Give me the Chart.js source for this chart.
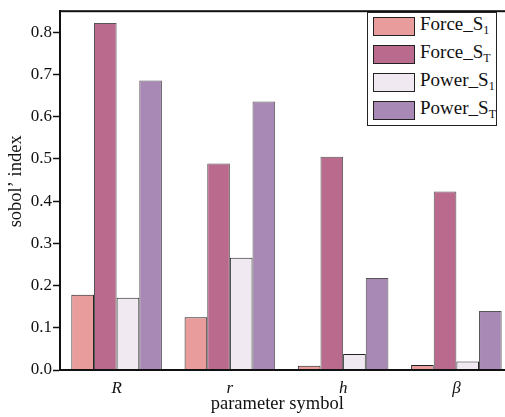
<!DOCTYPE html>
<html>
<head>
<meta charset="utf-8">
<script src="https://cdn.jsdelivr.net/npm/chart.js@4.4.0/dist/chart.umd.min.js"></script>
<style>
    html, body { margin: 0; padding: 0; background: #fff; overflow: hidden; }
    #wrap { position: relative; width: 515px; height: 417px; }
    #legend {
        position: absolute; left: 367px; top: 12px; width: 130px; height: 114px;
        border: 1px solid #222; background: #fff; box-sizing: border-box;
        font-family: "Liberation Serif", "Times New Roman", serif; font-size: 19px; color: #111;
    }
    .item { position: absolute; left: 5px; height: 18px; }
    .swatch { position: absolute; left: 0; top: 0; width: 40px; height: 17px; border: 1px solid #222; }
    .lbl { position: absolute; left: 47px; top: -4px; white-space: nowrap; line-height: 22px; }
    .lbl sub { font-size: 12px; vertical-align: -4px; line-height: 0; }
</style>
</head>
<body>
<div id="wrap">
    <canvas id="chart"></canvas>
    <div id="legend"></div>
</div>
<script>
const categories = ['R', 'r', 'h', 'β'];
const seriesNames = ['Force_S', 'Force_S', 'Power_S', 'Power_S'];
const seriesSubs = ['1', 'T', '1', 'T'];
const forceS1 = [0.178, 0.125, 0.010, 0.012];
const forceST = [0.822, 0.489, 0.505, 0.423];
const powerS1 = [0.171, 0.266, 0.038, 0.020];
const powerST = [0.686, 0.636, 0.218, 0.140];
const fillColors = ['#E99C9C', '#BA6A8C', '#F1E9F1', '#A889B5'];
const edgeColors = ['#222', '#555', '#222', '#555'];

const serif = '"Liberation Serif", "Times New Roman", serif';
const values = [forceS1, forceST, powerS1, powerST];

const datasets = values.map((v, i) => ({
    label: seriesNames[i] + seriesSubs[i],
    data: v,
    backgroundColor: fillColors[i],
    borderColor: edgeColors[i],
    borderWidth: 1,
    categoryPercentage: 0.8,
    barPercentage: 1.0
}));

// frame around the plot area (right edge falls just outside the window)
const framePlugin = {
    id: 'frame',
    afterDraw(chart) {
        const a = chart.chartArea;
        const ctx = chart.ctx;
        ctx.save();
        ctx.strokeStyle = '#111';
        ctx.lineWidth = 2;
        ctx.strokeRect(a.left, a.top, a.right - a.left, a.bottom - a.top);
        ctx.restore();
    }
};

const chart = new Chart(document.getElementById('chart'), {
    type: 'bar',
    data: { labels: categories, datasets },
    options: {
        responsive: true,
        maintainAspectRatio: false,
        animation: false,
        layout: { padding: { left: 0, top: 4, right: 2, bottom: 0 } },
        plugins: {
            legend: { display: false },
            tooltip: { enabled: false }
        },
        scales: {
            x: {
                grid: { display: false, drawTicks: false },
                border: { display: true, color: '#111', width: 2 },
                ticks: {
                    color: '#111', padding: 8,
                    font: { family: serif, size: 17, style: 'italic' }
                },
                title: {
                    // trailing spaces nudge the title left like the original
                    display: true, text: 'parameter symbol    ', color: '#111',
                    font: { family: serif, size: 18.5 },
                    padding: { top: 0, bottom: 2 }
                },
                afterFit(scale) { scale.height = 47; }
            },
            y: {
                min: 0,
                max: 0.85,
                grid: { drawOnChartArea: false, tickLength: 7, tickColor: '#111', tickWidth: 1.5 },
                border: { display: true, color: '#111', width: 2 },
                ticks: {
                    stepSize: 0.1, color: '#111', padding: 1,
                    font: { family: serif, size: 17 },
                    callback: v => Number(v).toFixed(1)
                },
                afterBuildTicks(scale) {
                    scale.ticks = scale.ticks.filter(t => Math.abs(t.value * 10 - Math.round(t.value * 10)) < 1e-6);
                },
                title: {
                    display: true, text: '    sobol’ index', color: '#111',
                    font: { family: serif, size: 18.5 },
                    padding: { top: 5, bottom: 0 }
                },
                afterFit(scale) { scale.width = 60; }
            }
        }
    },
    plugins: [framePlugin]
});

// legend with real subscripts
const legendEl = document.getElementById('legend');
chart.data.datasets.forEach((ds, i) => {
    const item = document.createElement('div');
    item.className = 'item';
    item.style.top = (4 + i * 28) + 'px';
    item.innerHTML = '<span class="swatch" style="background:' + ds.backgroundColor + '"></span>' +
        '<span class="lbl">' + seriesNames[i] + '<sub>' + seriesSubs[i] + '</sub></span>';
    legendEl.appendChild(item);
});
</script>
</body>
</html>
